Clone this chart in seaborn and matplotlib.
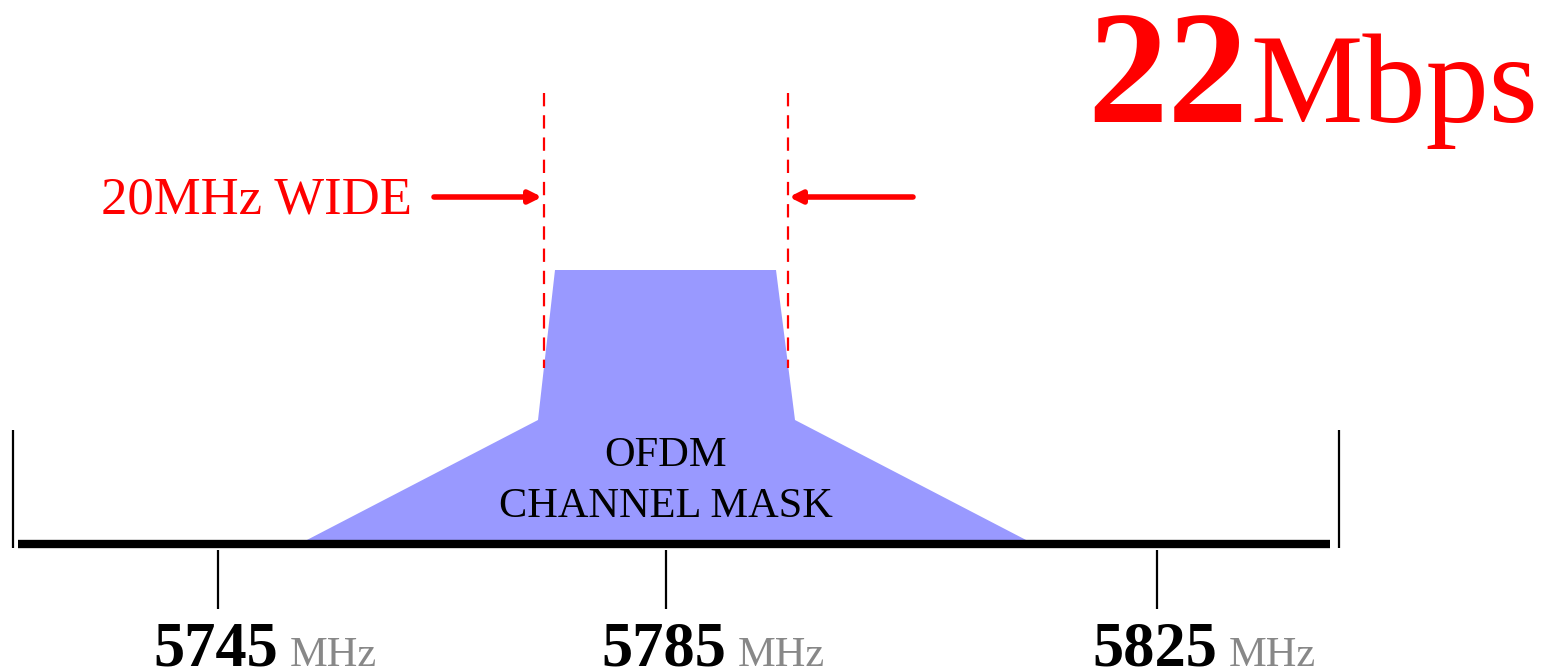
import matplotlib
matplotlib.use('Agg')
import matplotlib.pyplot as plt
import seaborn as sns
import pandas as pd

sns.set_theme(style='white')
plt.rcParams['font.family'] = ['Liberation Serif', 'DejaVu Serif']

# diagram coordinates are in pixels of the 1549x671 canvas (y grows downward)
tick_freqs = ['5745', '5785', '5825']
tick_pos = [218, 666, 1157]

mask_x = [305, 538, 555, 776, 795, 1028]
mask_y = [541, 420, 270, 270, 420, 541]

band_edges = [13, 1339]
baseline_x = [18, 1330]
baseline_y = 544

channel_edges = [544, 788]
rate_value = '22'
rate_unit = 'Mbps'
width_label = '20MHz WIDE'
mask_label = ['OFDM', 'CHANNEL MASK']

red = '#ff0000'
mask_color = '#9999ff'

fig = plt.figure(figsize=(15.49, 6.71), dpi=100)
ax = fig.add_axes([0, 0, 1, 1])
ax.set_xlim(0, 1549)
ax.set_ylim(671, 0)
ax.axis('off')

# channel mask
ax.fill(mask_x, mask_y, color=mask_color, lw=0, zorder=1)

# frequency axis
base = pd.DataFrame({'x': baseline_x, 'y': [baseline_y] * 2})
sns.lineplot(data=base, x='x', y='y', color='black', lw=6, ax=ax, zorder=3,
             solid_capstyle='butt')
ax.vlines(band_edges, 430, 548, color='black', lw=1.6, zorder=3)
ax.vlines(tick_pos, 550, 609, color='black', lw=1.6, zorder=3)

for f, x in zip(tick_freqs, tick_pos):
    ax.text(x + 60, 666, f, ha='right', va='baseline', fontsize=45,
            fontweight='bold', color='black')
    ax.text(x + 72, 666, 'MHz', ha='left', va='baseline', fontsize=30.5,
            color='#888888')

ax.text(666, 466, mask_label[0], ha='center', va='baseline', fontsize=30.5,
        color='black', zorder=4)
ax.text(666, 517, mask_label[1], ha='center', va='baseline', fontsize=30.5,
        color='black', zorder=4)

# channel width markers
ax.vlines(channel_edges, 93, 368, color=red, lw=1.6, linestyles=(0, (6, 4)),
          zorder=2)
ax.annotate('', xy=(channel_edges[0] - 2, 197), xytext=(434, 197),
            arrowprops=dict(arrowstyle='-|>', color=red, lw=4,
                            mutation_scale=18, shrinkA=0, shrinkB=0))
ax.annotate('', xy=(channel_edges[1] + 1, 197), xytext=(913, 197),
            arrowprops=dict(arrowstyle='-|>', color=red, lw=4,
                            mutation_scale=18, shrinkA=0, shrinkB=0))
ax.text(412, 214, width_label, ha='right', va='baseline', fontsize=38,
        color=red)

# data rate
ax.text(1248, 122, rate_value, ha='right', va='baseline', fontsize=116,
        fontweight='bold', color=red)
ax.text(1250, 122, rate_unit, ha='left', va='baseline', fontsize=91,
        color=red)

fig.savefig('out.png', dpi=100)
